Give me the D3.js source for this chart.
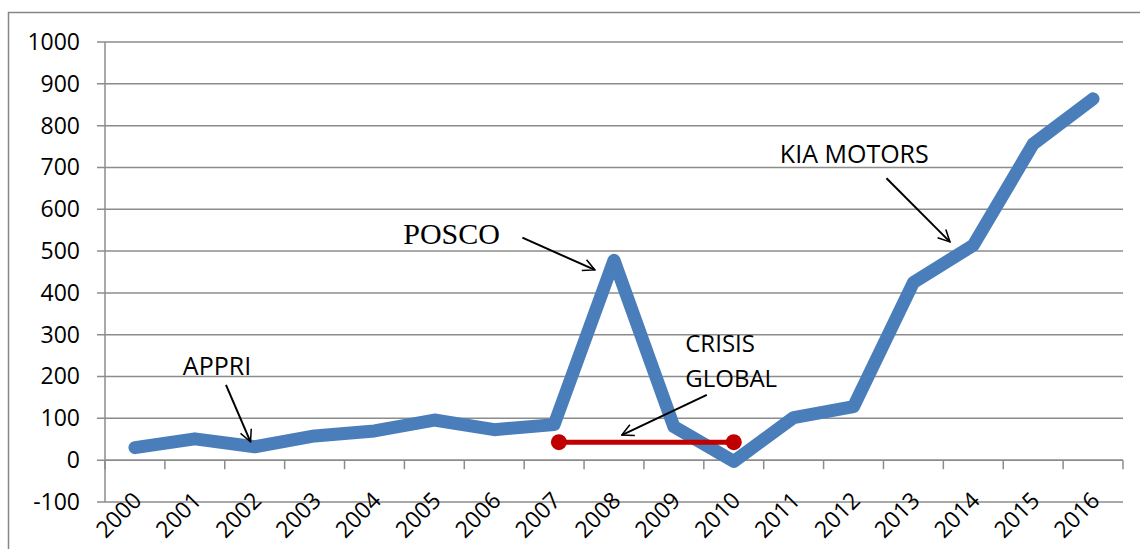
<!DOCTYPE html>
<html>
<head>
<meta charset="utf-8">
<script src="https://cdn.jsdelivr.net/npm/d3@7"></script>
<style>
  body { margin: 0; background: #fff; }
  svg { display: block; }
</style>
</head>
<body>
<div id="chart"></div>
<script>
// data
var years = ["2000","2001","2002","2003","2004","2005","2006","2007","2008",
             "2009","2010","2011","2012","2013","2014","2015","2016"];
var values = [30, 51, 32, 58, 70, 96, 73, 85, 478, 80, -3, 102, 128, 425, 514, 756, 864];
var yTicks = [-100, 0, 100, 200, 300, 400, 500, 600, 700, 800, 900, 1000];

// red "crisis" bar (x as position in years, y as value)
var crisisX = [2007.08, 2010.0];
var crisisY = [43, 43];

// annotations: label and arrow (in data units: year position, value)
var notes = [
  { lines: ["APPRI"], x: 2000.8, y: 204, font: "'Open Sans'", size: 25, ax1: 2001.52, ay1: 180, ax2: 2001.93, ay2: 44 },
  { lines: ["POSCO"], x: 2004.48, y: 517, font: "'Liberation Serif'", size: 30, ax1: 2006.47, ay1: 532, ax2: 2007.68, ay2: 455 },
  { lines: ["CRISIS", "GLOBAL"], x: 2009.19, y: 259, font: "'Open Sans'", size: 24, ax1: 2009.55, ay1: 156, ax2: 2008.13, ay2: 60 },
  { lines: ["KIA MOTORS"], x: 2010.77, y: 711, font: "'Open Sans'", size: 25, ax1: 2012.55, ay1: 674, ax2: 2013.61, ay2: 522 }
];

var svgWidth = 1140;
var svgHeight = 549;

var margin = { top: 42, right: 17, bottom: 47, left: 105 };
var width = svgWidth - margin.left - margin.right;
var height = svgHeight - margin.top - margin.bottom;

var svg = d3.select("#chart")
  .append("svg")
  .attr("width", svgWidth)
  .attr("height", svgHeight);

// outer chart frame
svg.append("rect")
  .attr("x", 8.5)
  .attr("y", 12.5)
  .attr("width", 1160)
  .attr("height", 600)
  .attr("fill", "none")
  .attr("stroke", "#868686")
  .attr("stroke-width", 1.5);

var chartGroup = svg.append("g")
  .attr("transform", `translate(${margin.left}, ${margin.top})`);

var xBand = d3.scaleBand().domain(years).range([0, width]);
// continuous x for the annotations and the red bar
var xYear = d3.scaleLinear().domain([1999.5, 2016.5]).range([0, width]);
var yScale = d3.scaleLinear().domain([-100, 1000]).range([height, 0]);

// gridlines
chartGroup.append("g")
  .selectAll("line")
  .data(yTicks)
  .enter()
  .append("line")
  .attr("x1", -8)
  .attr("x2", width)
  .attr("y1", d => yScale(d))
  .attr("y2", d => yScale(d))
  .attr("stroke", "#8c8c8c")
  .attr("stroke-width", 1.5);

// y axis
var leftAxis = d3.axisLeft(yScale)
  .tickValues(yTicks)
  .tickFormat(d => String(d))
  .tickSize(0)
  .tickPadding(25);
var yAxis = chartGroup.append("g").call(leftAxis);
yAxis.select(".domain").remove();
yAxis.selectAll("text")
  .attr("font-family", "'Open Sans', sans-serif")
  .attr("font-size", "23px")
  .attr("fill", "#000");

chartGroup.append("line")
  .attr("x1", 0).attr("x2", 0)
  .attr("y1", 0).attr("y2", height)
  .attr("stroke", "#8c8c8c")
  .attr("stroke-width", 1.5);

// x axis sits on zero
var zeroY = yScale(0);
chartGroup.append("line")
  .attr("x1", 0).attr("x2", width)
  .attr("y1", zeroY).attr("y2", zeroY)
  .attr("stroke", "#8c8c8c")
  .attr("stroke-width", 1.5);

chartGroup.append("g")
  .selectAll("line")
  .data(years.concat(["end"]))
  .enter()
  .append("line")
  .attr("x1", (d, i) => i * xBand.bandwidth())
  .attr("x2", (d, i) => i * xBand.bandwidth())
  .attr("y1", zeroY)
  .attr("y2", zeroY + 9)
  .attr("stroke", "#8c8c8c")
  .attr("stroke-width", 1.5);

// year labels, low position, rotated
chartGroup.append("g")
  .selectAll("text")
  .data(years)
  .enter()
  .append("text")
  .attr("transform", d => `translate(${xBand(d) + xBand.bandwidth() / 2 + 8}, ${height}) rotate(-45)`)
  .attr("text-anchor", "end")
  .attr("font-family", "'Open Sans', sans-serif")
  .attr("font-size", "23px")
  .attr("fill", "#000")
  .text(d => d);

// main series
var line = d3.line()
  .x((d, i) => xBand(years[i]) + xBand.bandwidth() / 2)
  .y(d => yScale(d));

chartGroup.append("path")
  .datum(values)
  .attr("d", line)
  .attr("fill", "none")
  .attr("stroke", "#4a7ebb")
  .attr("stroke-width", 13)
  .attr("stroke-linejoin", "round")
  .attr("stroke-linecap", "round");

// crisis bar
var crisis = crisisX.map((x, i) => [x, crisisY[i]]);
chartGroup.append("path")
  .datum(crisis)
  .attr("d", d3.line().x(d => xYear(d[0])).y(d => yScale(d[1])))
  .attr("stroke", "#c00000")
  .attr("stroke-width", 5)
  .attr("fill", "none");

chartGroup.selectAll(".crisisDot")
  .data(crisis)
  .enter()
  .append("circle")
  .attr("class", "crisisDot")
  .attr("cx", d => xYear(d[0]))
  .attr("cy", d => yScale(d[1]))
  .attr("r", 8)
  .attr("fill", "#c00000");

// arrowhead
svg.append("defs").append("marker")
  .attr("id", "arrow")
  .attr("viewBox", "0 0 12 12")
  .attr("refX", 11)
  .attr("refY", 6)
  .attr("markerWidth", 7)
  .attr("markerHeight", 7)
  .attr("markerUnits", "strokeWidth")
  .attr("orient", "auto")
  .append("path")
  .attr("d", "M1,1 L11,6 L1,11")
  .attr("fill", "none")
  .attr("stroke", "#000")
  .attr("stroke-width", 1.3);

notes.forEach(n => {
  var t = chartGroup.append("text")
    .attr("x", xYear(n.x))
    .attr("y", yScale(n.y))
    .attr("font-family", n.font + ", sans-serif")
    .attr("font-size", n.size + "px")
    .attr("fill", "#000");
  n.lines.forEach((l, i) => {
    t.append("tspan")
      .attr("x", xYear(n.x))
      .attr("dy", i === 0 ? 0 : 35)
      .text(l);
  });

  chartGroup.append("line")
    .attr("x1", xYear(n.ax1))
    .attr("y1", yScale(n.ay1))
    .attr("x2", xYear(n.ax2))
    .attr("y2", yScale(n.ay2))
    .attr("stroke", "#000")
    .attr("stroke-width", 2)
    .attr("marker-end", "url(#arrow)");
});
</script>
</body>
</html>
